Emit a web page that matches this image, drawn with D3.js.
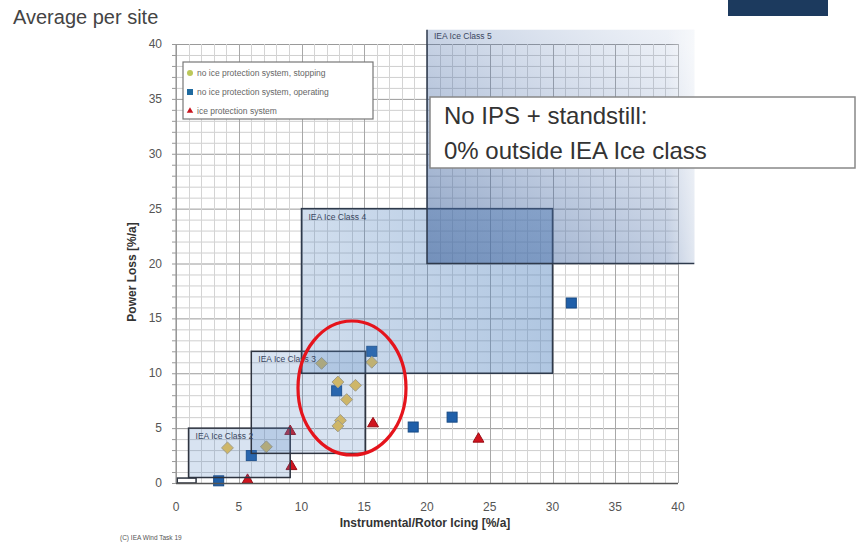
<!DOCTYPE html>
<html><head><meta charset="utf-8">
<script src="https://cdn.jsdelivr.net/npm/d3@7"></script>
<style>body{margin:0;background:#fff}svg{display:block;font-family:"Liberation Sans",Arial,sans-serif}</style>
</head><body><svg id="c" width="859" height="547"></svg>
<script>
// ---- data ----
const xTicks = [0,5,10,15,20,25,30,35,40];
const yTicks = [0,5,10,15,20,25,30,35,40];
const stoppingX = [15.6, 12.9, 14.3, 13.6, 13.1, 12.9, 11.6, 4.1, 7.2];
const stoppingY = [11.0, 9.2, 8.9, 7.6, 5.7, 5.2, 10.9, 3.2, 3.3];
const operatingX = [31.5, 15.6, 12.8, 18.9, 22.0, 6.0, 3.4];
const operatingY = [16.4, 12.0, 8.4, 5.1, 6.0, 2.5, 0.2];
const ipsX = [24.1, 15.7, 9.1, 9.2, 5.7];
const ipsY = [4.1, 5.5, 4.8, 1.6, 0.35];
const seriesNames = ["no ice protection system, stopping","no ice protection system, operating","ice protection system"];
const classNames = ["", "IEA Ice Class 2", "IEA Ice Class 3", "IEA Ice Class 4", "IEA Ice Class 5"];
const classX0 = [0.1, 1.0, 6.0, 10, 20];
const classX1 = [1.6, 9.1, 15.1, 30, 41.3];
const classY0 = [0, 0.5, 2.7, 10, 20];
const classY1 = [0.45, 5, 12, 25, 41.3];

const svg = d3.select("#c");
const x = d3.scaleLinear().domain([0,40]).range([176,678]);
const y = d3.scaleLinear().domain([0,40]).range([483,44]);

// gradients
const defs = svg.append("defs");
const g4 = defs.append("linearGradient").attr("id","g4").attr("x1",0).attr("y1",0).attr("x2",1).attr("y2",0);
g4.append("stop").attr("offset",0).attr("stop-color","#4f81bd").attr("stop-opacity",0.26);
g4.append("stop").attr("offset",1).attr("stop-color","#4f81bd").attr("stop-opacity",0.45);
const g5 = defs.append("linearGradient").attr("id","g5").attr("x1",0).attr("y1",1).attr("x2",0.9).attr("y2",0);
g5.append("stop").attr("offset",0).attr("stop-color","#40649c").attr("stop-opacity",0.6);
g5.append("stop").attr("offset",0.5).attr("stop-color","#4a6ea8").attr("stop-opacity",0.33);
g5.append("stop").attr("offset",1).attr("stop-color","#6d8bbd").attr("stop-opacity",0.12);
const g5r = defs.append("linearGradient").attr("id","g5r").attr("x1",0).attr("y1",0).attr("x2",1).attr("y2",0);
g5r.append("stop").attr("offset",0).attr("stop-color","#fff").attr("stop-opacity",0);
g5r.append("stop").attr("offset",0.9).attr("stop-color","#fff").attr("stop-opacity",0);
g5r.append("stop").attr("offset",1).attr("stop-color","#fff").attr("stop-opacity",0.5);

// grid
const minor = d3.range(0,41,1);
svg.append("g").selectAll("line.hm").data(minor).join("line")
  .attr("x1",x(0)).attr("x2",x(40)).attr("y1",d=>y(d)+0.5).attr("y2",d=>y(d)+0.5)
  .attr("stroke",d=>d%5===0?"#9a9a9a":"#cfcfcf").attr("stroke-width",1);
svg.append("g").selectAll("line.vm").data(minor).join("line")
  .attr("y1",y(0)).attr("y2",y(40)).attr("x1",d=>Math.round(x(d))+0.5).attr("x2",d=>Math.round(x(d))+0.5)
  .attr("stroke",d=>d%5===0?"#a8a8a8":"#d4d4d4").attr("stroke-width",1);

// points (under the semi-transparent class boxes)
const pts = svg.append("g");
const sym = (t,s)=>d3.symbol().type(t).size(s)();
pts.selectAll("rect.op").data(operatingX.map((v,i)=>[v,operatingY[i]])).join("rect")
  .attr("x",d=>x(d[0])-5).attr("y",d=>y(d[1])-5).attr("width",10).attr("height",10)
  .attr("fill","#1f5fa9").attr("stroke","#174a85").attr("stroke-width",1);
pts.selectAll("path.st").data(stoppingX.map((v,i)=>[v,stoppingY[i]])).join("path")
  .attr("transform",d=>`translate(${x(d[0])},${y(d[1])})`).attr("d",sym(d3.symbolDiamond2,90))
  .attr("fill","#f2c650").attr("stroke","#b8a57a").attr("stroke-width",1);
pts.selectAll("path.ip").data(ipsX.map((v,i)=>[v,ipsY[i]])).join("path")
  .attr("transform",d=>`translate(${x(d[0])},${y(d[1])+1})`).attr("d",sym(d3.symbolTriangle2,85))
  .attr("fill","#d0141e").attr("stroke","#9a0c14").attr("stroke-width",1);

// ice class boxes
const boxes = svg.append("g");
[0,1,2].forEach(i=>{
  boxes.append("rect").attr("x",x(classX0[i])).attr("y",y(classY1[i]))
    .attr("width",x(classX1[i])-x(classX0[i])).attr("height",y(classY0[i])-y(classY1[i]))
    .attr("fill",i===0?"#fff":"#4f81bd").attr("fill-opacity",i===0?1:0.22)
    .attr("stroke","#2e3440").attr("stroke-width",1.5);
});
boxes.append("rect").attr("x",x(classX0[3])).attr("y",y(classY1[3]))
  .attr("width",x(classX1[3])-x(classX0[3])).attr("height",y(classY0[3])-y(classY1[3]))
  .attr("fill","url(#g4)").attr("stroke","#2e3a4c").attr("stroke-width",1.5);
boxes.append("rect").attr("x",x(classX0[4])).attr("y",y(classY1[4]))
  .attr("width",x(classX1[4])-x(classX0[4])).attr("height",y(classY0[4])-y(classY1[4]))
  .attr("fill","url(#g5)");
boxes.append("rect").attr("x",x(classX0[4])).attr("y",y(classY1[4]))
  .attr("width",x(classX1[4])-x(classX0[4])).attr("height",y(classY0[4])-y(classY1[4]))
  .attr("fill","url(#g5r)");
boxes.append("path")
  .attr("d",`M${x(classX0[4])},${y(classY1[4])}V${y(classY0[4])}H${x(classX1[4])}`)
  .attr("fill","none").attr("stroke","#2e3a4c").attr("stroke-width",1.5);
[1,2,3,4].forEach(i=>{
  boxes.append("text").attr("x",x(classX0[i])+7).attr("y",y(classY1[i])+ (i===4?9:11))
    .attr("font-size",8.5).attr("fill","#3a4660").text(classNames[i]);
});

// axes
svg.append("line").attr("x1",x(0)).attr("x2",x(0)).attr("y1",y(0)).attr("y2",y(40)).attr("stroke","#888");
svg.append("line").attr("x1",x(0)).attr("x2",x(40)).attr("y1",y(0)+0.5).attr("y2",y(0)+0.5).attr("stroke","#555").attr("stroke-width",1.5);
svg.append("g").selectAll("line").data(minor).join("line")
  .attr("x1",x(0)-4).attr("x2",x(0)).attr("y1",d=>y(d)+0.5).attr("y2",d=>y(d)+0.5).attr("stroke","#999");
svg.append("g").selectAll("text").data(yTicks).join("text")
  .attr("x",162).attr("y",d=>y(d)+4).attr("text-anchor","end").attr("font-size",12).attr("fill","#555").text(d=>d);
svg.append("g").selectAll("text").data(xTicks).join("text")
  .attr("x",d=>x(d)).attr("y",511).attr("text-anchor","middle").attr("font-size",12).attr("fill","#555").text(d=>d);
svg.append("text").attr("transform","translate(136,272) rotate(-90)").attr("text-anchor","middle")
  .attr("font-size",12).attr("font-weight","bold").attr("fill","#333").text("Power Loss [%/a]");
svg.append("text").attr("x",425).attr("y",527).attr("text-anchor","middle")
  .attr("font-size",12).attr("font-weight","bold").attr("fill","#333").text("Instrumental/Rotor Icing [%/a]");
svg.append("text").attr("x",120).attr("y",540).attr("font-size",6.5).attr("fill","#555").text("(C) IEA Wind Task 19");

// legend
const lg = svg.append("g");
lg.append("rect").attr("x",183).attr("y",62).attr("width",190).attr("height",57).attr("fill","#fff").attr("stroke","#777").attr("stroke-width",1.2);
const lgY = [73,92,111];
lg.append("circle").attr("cx",190).attr("cy",lgY[0]).attr("r",3).attr("fill","#bcc85a");
lg.append("rect").attr("x",187).attr("y",lgY[1]-3).attr("width",6).attr("height",6).attr("fill","#1f6a9f");
lg.append("path").attr("transform",`translate(190,${lgY[2]})`).attr("d",sym(d3.symbolTriangle2,30)).attr("fill","#c8141e");
lg.selectAll("text").data(seriesNames).join("text").attr("x",197).attr("y",(d,i)=>lgY[i]+3)
  .attr("font-size",8.5).attr("fill","#666").text(d=>d);

// note box
const nb = svg.append("g");
nb.append("rect").attr("x",430).attr("y",97).attr("width",425).attr("height",71).attr("fill","#fff").attr("stroke","#888").attr("stroke-width",1.5);
nb.append("text").attr("x",444).attr("y",124).attr("font-size",24).attr("fill","#333").text("No IPS + standstill:");
nb.append("text").attr("x",444).attr("y",159).attr("font-size",24).attr("fill","#333").text("0% outside IEA Ice class");

// ellipse
svg.append("ellipse").attr("cx",352).attr("cy",388).attr("rx",54).attr("ry",67)
  .attr("fill","none").attr("stroke","#e5141c").attr("stroke-width",3.2);

// title and corner
svg.append("text").attr("x",13).attr("y",24).attr("font-size",20).attr("fill","#444").text("Average per site");
svg.append("rect").attr("x",728).attr("y",0).attr("width",100).attr("height",16).attr("fill","#1c3a5e");
</script></body></html>
